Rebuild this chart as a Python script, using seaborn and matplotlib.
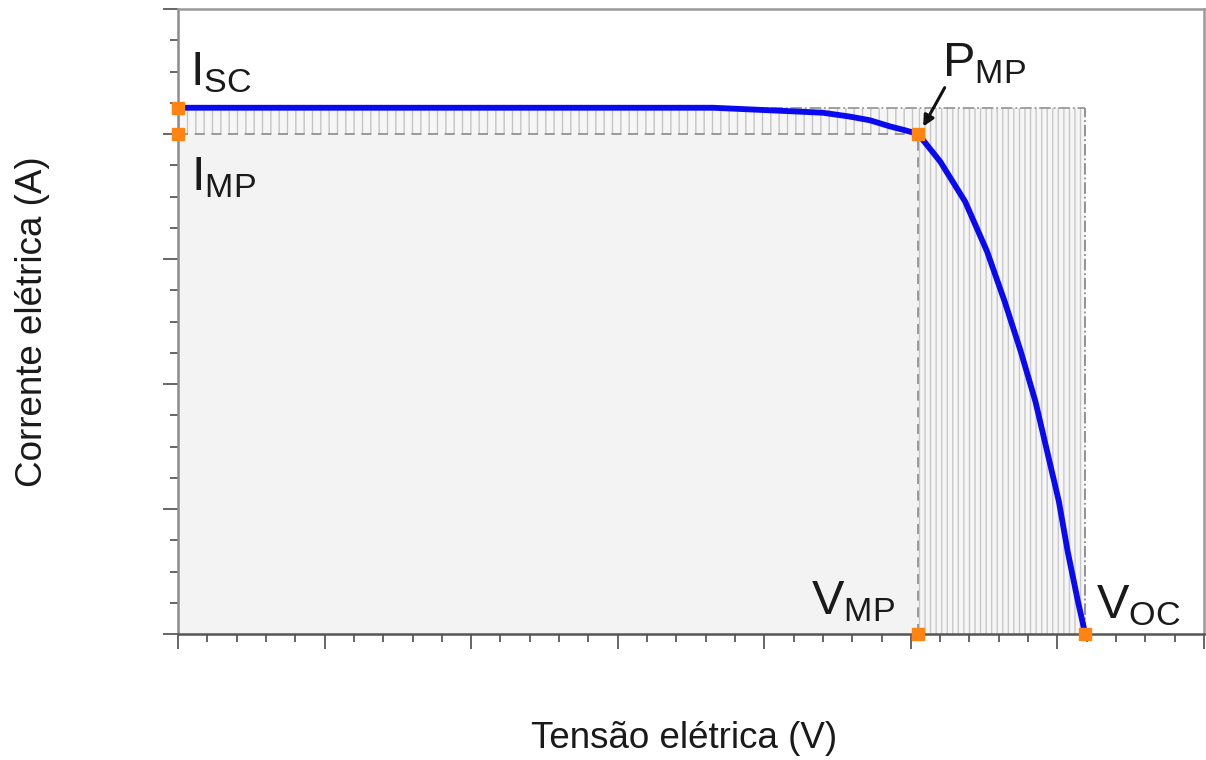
import matplotlib
matplotlib.use("Agg")
import matplotlib.pyplot as plt
from matplotlib.patches import Rectangle
from matplotlib.ticker import MultipleLocator, NullFormatter
import seaborn as sns
import pandas as pd

# I-V curve of a photovoltaic module (voltage in V, current in A)
voltage = [0.0, 1.0, 2.0, 3.0, 3.65, 4.22, 4.40, 4.58, 4.72, 4.86, 4.96,
           5.05, 5.20, 5.37, 5.52, 5.64, 5.75, 5.85, 5.93, 6.01, 6.07,
           6.14, 6.19]
current = [4.21, 4.21, 4.21, 4.21, 4.21, 4.18, 4.17, 4.14, 4.11, 4.06, 4.03,
           4.00, 3.78, 3.46, 3.06, 2.66, 2.26, 1.86, 1.46, 1.06, 0.66,
           0.26, 0.00]

# characteristic points
isc, imp = 4.21, 4.00
vmp, voc = 5.05, 6.19
key_v = [0.0, 0.0, vmp, vmp, voc]
key_i = [isc, imp, imp, 0.0, 0.0]

sns.set_theme(style="ticks")
plt.rcParams["font.family"] = ["Liberation Sans", "DejaVu Sans"]
plt.rcParams["mathtext.fontset"] = "custom"
plt.rcParams["mathtext.rm"] = "Liberation Sans"
plt.rcParams["hatch.color"] = "#c4c4c4"
plt.rcParams["hatch.linewidth"] = 1.0

fig = plt.figure(figsize=(12.06, 7.60), dpi=100)
ax = fig.add_axes([178 / 1206, 126 / 760, 1026 / 1206, 625 / 760])
ax.set_xlim(0, 7)
ax.set_ylim(0, 5)

# hatched part of the Voc x Isc rectangle lying outside the Vmp x Imp one
ax.add_patch(Rectangle((0, imp), vmp, isc - imp, facecolor="#f6f6f6",
                       edgecolor="#c4c4c4", linewidth=0, hatch="||", zorder=1))
ax.add_patch(Rectangle((vmp, 0), voc - vmp, isc, facecolor="#f6f6f6",
                       edgecolor="#c8c8c8", linewidth=0, hatch="|||", zorder=1))
# maximum power rectangle (Vmp x Imp)
ax.add_patch(Rectangle((0, 0), vmp, imp, facecolor="#f3f3f3",
                       edgecolor="none", linewidth=0, zorder=2))

# borders of both rectangles
ax.plot([0, voc], [isc, isc], color="#9a9a9a", lw=1.3, ls="-.", zorder=3)
ax.plot([voc, voc], [0, isc], color="#8a8a8a", lw=1.3, ls="-.", zorder=3)
ax.plot([0, vmp], [imp, imp], color="#8a8a8a", lw=1.2, ls=(0, (6, 4)), zorder=3)
ax.plot([vmp, vmp], [0, imp], color="#8a8a8a", lw=1.2, ls=(0, (6, 4)), zorder=3)

df = pd.DataFrame({"V": voltage, "I": current})
sns.lineplot(data=df, x="V", y="I", color="#0a0af0", lw=4.2, sort=False,
             ax=ax, zorder=4)
ax.set_xlabel("")
ax.set_ylabel("")

ax.plot(key_v, key_i, ls="none", marker="s", ms=8.5, color="#ff8412",
        mec="#ff8412", clip_on=False, zorder=6)

ax.annotate("", xy=(5.075, 4.04), xytext=(5.24, 4.39),
            arrowprops=dict(arrowstyle="-|>", color="#111111", lw=2.2,
                            mutation_scale=16), zorder=7)

tkw = dict(fontsize=35, color="#1a1a1a", va="baseline", ha="left", zorder=8)
ax.text(0.08, 4.39, r"$\mathregular{I_{SC}}$", **tkw)
ax.text(0.09, 3.55, r"$\mathregular{I_{MP}}$", **tkw)
ax.text(5.21, 4.46, r"$\mathregular{P_{MP}}$", **tkw)
ax.text(4.32, 0.16, r"$\mathregular{V_{MP}}$", **tkw)
ax.text(6.26, 0.13, r"$\mathregular{V_{OC}}$", **tkw)

ax.xaxis.set_major_locator(MultipleLocator(1))
ax.xaxis.set_minor_locator(MultipleLocator(0.2))
ax.yaxis.set_major_locator(MultipleLocator(1))
ax.yaxis.set_minor_locator(MultipleLocator(0.25))
ax.xaxis.set_major_formatter(NullFormatter())
ax.yaxis.set_major_formatter(NullFormatter())
ax.tick_params(which="major", direction="out", length=11, width=1.3,
               color="#5a5a5a")
ax.tick_params(which="minor", direction="out", length=5.5, width=1.3,
               color="#5a5a5a")

for side in ["top", "right"]:
    ax.spines[side].set_visible(True)
    ax.spines[side].set_color("#999999")
    ax.spines[side].set_linewidth(1.8)
ax.spines["left"].set_color("#8c8c8c")
ax.spines["left"].set_linewidth(1.8)
ax.spines["bottom"].set_color("#555555")
ax.spines["bottom"].set_linewidth(1.8)

# axis titles
fig.text(684 / 1206, 1 - 738 / 760, "Tensão elétrica (V)", fontsize=26.5,
         color="#1a1a1a", ha="center", va="center")
fig.text(33 / 1206, 1 - 322 / 760, "Corrente elétrica (A)", fontsize=26.5,
         color="#1a1a1a", ha="center", va="center", rotation=90)

fig.savefig("out.png", dpi=100, facecolor="white")
